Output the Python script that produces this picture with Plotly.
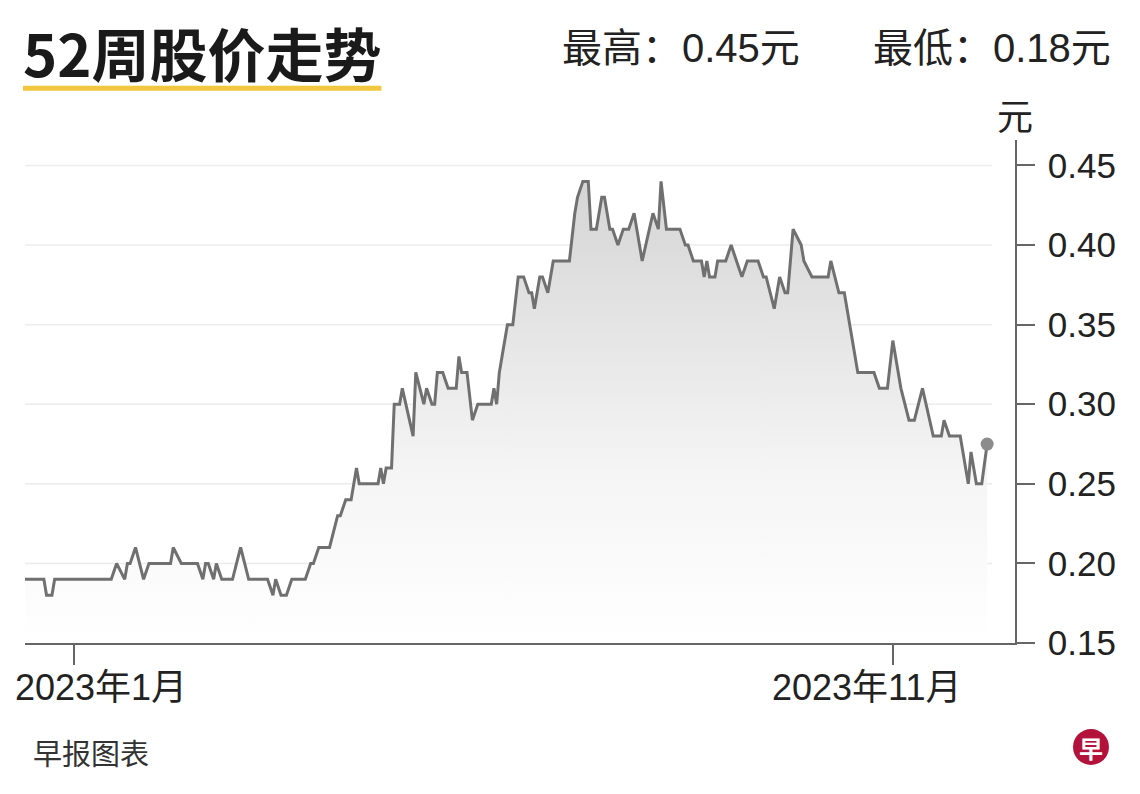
import plotly.graph_objects as go

# 52-week share price, one point per visible turn of the line
dates = [
    '2022-12-14', '2022-12-21', '2022-12-22', '2022-12-24', '2022-12-25', '2023-01-15',
    '2023-01-17', '2023-01-20', '2023-01-21', '2023-01-22', '2023-01-24', '2023-01-27',
    '2023-01-29', '2023-02-06', '2023-02-07', '2023-02-10', '2023-02-16', '2023-02-18',
    '2023-02-19', '2023-02-20', '2023-02-22', '2023-02-23', '2023-02-25', '2023-03-01',
    '2023-03-04', '2023-03-07', '2023-03-14', '2023-03-16', '2023-03-17', '2023-03-19',
    '2023-03-21', '2023-03-23', '2023-03-28', '2023-03-30', '2023-03-31', '2023-04-02',
    '2023-04-06', '2023-04-09', '2023-04-10', '2023-04-12', '2023-04-14', '2023-04-16',
    '2023-04-17', '2023-04-24', '2023-04-25', '2023-04-26', '2023-04-27', '2023-04-29',
    '2023-04-30', '2023-05-02', '2023-05-03', '2023-05-07', '2023-05-08', '2023-05-11',
    '2023-05-12', '2023-05-14', '2023-05-15', '2023-05-16', '2023-05-18', '2023-05-20',
    '2023-05-23', '2023-05-24', '2023-05-25', '2023-05-27', '2023-05-29', '2023-05-31',
    '2023-06-05', '2023-06-06', '2023-06-07', '2023-06-08', '2023-06-09', '2023-06-11',
    '2023-06-13', '2023-06-15', '2023-06-17', '2023-06-19', '2023-06-20', '2023-06-21',
    '2023-06-23', '2023-06-24', '2023-06-26', '2023-06-28', '2023-07-04', '2023-07-06',
    '2023-07-07', '2023-07-09', '2023-07-11', '2023-07-12', '2023-07-14', '2023-07-16',
    '2023-07-17', '2023-07-19', '2023-07-20', '2023-07-22', '2023-07-24', '2023-07-26',
    '2023-07-28', '2023-07-31', '2023-08-04', '2023-08-06', '2023-08-07', '2023-08-09',
    '2023-08-14', '2023-08-16', '2023-08-17', '2023-08-19', '2023-08-22', '2023-08-23',
    '2023-08-24', '2023-08-25', '2023-08-27', '2023-08-28', '2023-08-31', '2023-09-02',
    '2023-09-04', '2023-09-06', '2023-09-08', '2023-09-12', '2023-09-14', '2023-09-15',
    '2023-09-18', '2023-09-20', '2023-09-22', '2023-09-23', '2023-09-25', '2023-09-28',
    '2023-09-29', '2023-10-02', '2023-10-08', '2023-10-09', '2023-10-12', '2023-10-14',
    '2023-10-17', '2023-10-19', '2023-10-25', '2023-10-27', '2023-10-30', '2023-11-01',
    '2023-11-04', '2023-11-07', '2023-11-09', '2023-11-12', '2023-11-16', '2023-11-19',
    '2023-11-20', '2023-11-22', '2023-11-26', '2023-11-29', '2023-11-30', '2023-12-02',
    '2023-12-04', '2023-12-06',
]
prices = [
    0.19, 0.19, 0.18, 0.18, 0.19, 0.19,
    0.20, 0.19, 0.20, 0.20, 0.21, 0.19,
    0.20, 0.20, 0.21, 0.20, 0.20, 0.19,
    0.20, 0.20, 0.19, 0.20, 0.19, 0.19,
    0.21, 0.19, 0.19, 0.18, 0.19, 0.18,
    0.18, 0.19, 0.19, 0.20, 0.20, 0.21,
    0.21, 0.23, 0.23, 0.24, 0.24, 0.26,
    0.25, 0.25, 0.26, 0.25, 0.26, 0.26,
    0.30, 0.30, 0.31, 0.28, 0.32, 0.30,
    0.31, 0.30, 0.30, 0.32, 0.32, 0.31,
    0.31, 0.33, 0.32, 0.32, 0.29, 0.30,
    0.30, 0.31, 0.30, 0.32, 0.33, 0.35,
    0.35, 0.38, 0.38, 0.37, 0.37, 0.36,
    0.38, 0.38, 0.37, 0.39, 0.39, 0.42,
    0.43, 0.44, 0.44, 0.41, 0.41, 0.43,
    0.43, 0.41, 0.41, 0.40, 0.41, 0.41,
    0.42, 0.39, 0.42, 0.41, 0.44, 0.41,
    0.41, 0.40, 0.40, 0.39, 0.39, 0.38,
    0.39, 0.38, 0.38, 0.39, 0.39, 0.40,
    0.39, 0.38, 0.39, 0.39, 0.38, 0.38,
    0.36, 0.38, 0.37, 0.37, 0.41, 0.40,
    0.39, 0.38, 0.38, 0.39, 0.37, 0.37,
    0.34, 0.32, 0.32, 0.31, 0.31, 0.34,
    0.31, 0.29, 0.29, 0.31, 0.28, 0.28,
    0.29, 0.28, 0.28, 0.25, 0.27, 0.25,
    0.25, 0.275,
]

high_52w = 0.45
low_52w = 0.18

y_ticks = [0.15, 0.20, 0.25, 0.30, 0.35, 0.40, 0.45]
x_ticks = ['2023-01-01', '2023-11-01']
x_tick_labels = ['2023年1月', '2023年11月']

CJK = 'Noto Sans CJK SC'
LATIN = 'Liberation Sans, Noto Sans CJK SC'
TEXT = '#222222'
AXIS = '#666666'

fig = go.Figure()

# price line with grey gradient fill underneath
fig.add_trace(go.Scatter(
    x=dates, y=prices, mode='lines',
    line=dict(color='#707070', width=3),
    fill='tozeroy',
    fillgradient=dict(type='vertical',
                      colorscale=[[0, '#ffffff'], [0.35, '#f5f5f5'], [1, '#d3d3d3']],
                      start=0.15, stop=0.45),
    hoverinfo='x+y', showlegend=False,
))
# latest price dot
fig.add_trace(go.Scatter(
    x=[dates[-1]], y=[prices[-1]], mode='markers',
    marker=dict(color='#8c8c8c', size=13),
    hoverinfo='skip', showlegend=False,
))

# light gridlines that stop short of the axis
for v in y_ticks[1:]:
    fig.add_shape(type='line', xref='paper', yref='y', x0=0, x1=0.977, y0=v, y1=v,
                  line=dict(color='#ececec', width=1.5), layer='below')

# the page body adds 8px, so margins are pulled in by that much
fig.update_layout(
    width=1140, height=794,
    margin=dict(l=17, r=133, t=132, b=159),
    plot_bgcolor='white', paper_bgcolor='white',
    font=dict(family=LATIN, color=TEXT),
    xaxis=dict(
        type='date', range=['2022-12-14', '2023-12-16 08:00'],
        showgrid=False, zeroline=False,
        showline=True, linecolor=AXIS, linewidth=1.5,
        ticks='outside', ticklen=20, tickwidth=1.5, tickcolor=AXIS,
        tickvals=x_ticks, showticklabels=False,
    ),
    yaxis=dict(
        side='right', range=[0.15, 0.466],
        showgrid=False, zeroline=False,
        showline=True, linecolor=AXIS, linewidth=1.5,
        ticks='outside', ticklen=18, tickwidth=1.5, tickcolor=AXIS,
        tickvals=y_ticks, ticktext=[f'{v:.2f}' for v in y_ticks],
        tickfont=dict(family=LATIN, size=35, color=TEXT),
        ticklabelstandoff=6,
    ),
)

# x labels sit off-centre from their ticks in the original, so place them by hand
fig.add_annotation(text=x_tick_labels[0], xref='paper', yref='paper', x=0.0768, y=-0.0875,
                   xanchor='center', yanchor='middle', showarrow=False,
                   font=dict(family=LATIN, size=36, color=TEXT))
fig.add_annotation(text=x_tick_labels[1], xref='paper', yref='paper', x=0.8505, y=-0.0875,
                   xanchor='center', yanchor='middle', showarrow=False,
                   font=dict(family=LATIN, size=36, color=TEXT))

# unit label on top of the price axis
fig.add_annotation(text='元', xref='paper', yref='paper', x=1.0, y=1.052,
                   xanchor='center', yanchor='middle', showarrow=False,
                   font=dict(family=CJK, size=36, color=TEXT))

# title with yellow underline (anchored at its top so the box stays on the page)
fig.add_annotation(text='<b>52周股价走势</b>', xref='paper', yref='paper', x=-0.004, y=1.262,
                   xanchor='left', yanchor='top', showarrow=False,
                   font=dict(family=CJK, size=58, color='#1a1a1a'))
fig.add_shape(type='line', xref='paper', yref='paper', x0=-0.002, x1=0.36, y0=1.103, y1=1.103,
              line=dict(color='#f3c63f', width=5))

# 52-week high / low
fig.add_annotation(text=f'最高：{high_52w:.2f}元', xref='paper', yref='paper', x=0.5404, y=1.183,
                   xanchor='left', yanchor='middle', showarrow=False,
                   font=dict(family=LATIN, size=40, color=TEXT))
fig.add_annotation(text=f'最低：{low_52w:.2f}元', xref='paper', yref='paper', x=0.8546, y=1.183,
                   xanchor='left', yanchor='middle', showarrow=False,
                   font=dict(family=LATIN, size=40, color=TEXT))

# source + logo
fig.add_annotation(text='早报图表', xref='paper', yref='paper', x=0.006, y=-0.2167,
                   xanchor='left', yanchor='middle', showarrow=False,
                   font=dict(family=CJK, size=29, color='#333333'))
fig.add_shape(type='circle', xref='paper', yref='paper', x0=1.0586, x1=1.0949, y0=-0.2425, y1=-0.171,
              fillcolor='#b3123a', line=dict(width=0))
fig.add_annotation(text='<b>早</b>', xref='paper', yref='paper', x=1.0768, y=-0.2068,
                   xanchor='center', yanchor='middle', showarrow=False,
                   font=dict(family=CJK, size=24, color='white'))

fig.write_html('out.html')
